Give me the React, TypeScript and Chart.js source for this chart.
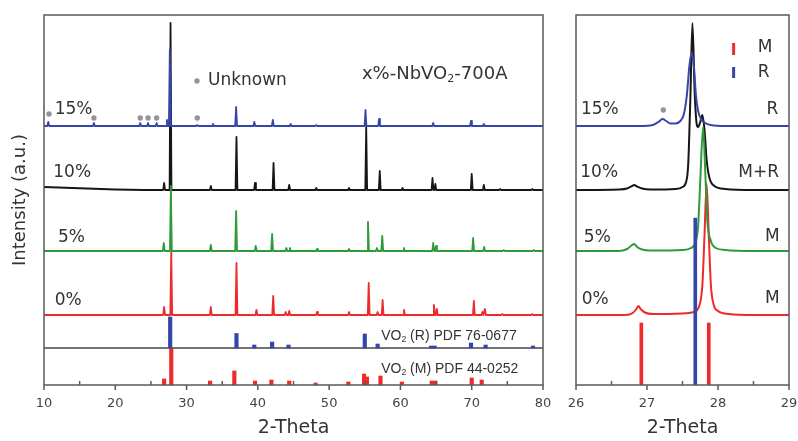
import React, { useEffect, useRef } from "react";
import { Chart, registerables } from "chart.js";

Chart.register(...registerables);

const FONT = "'DejaVu Sans', 'Liberation Sans', sans-serif";
const FONT2 = "'Liberation Sans', Arial, sans-serif";
const TEXT = "#333333";
const BLUE = "#3446a8";
const BLACK = "#161616";
const GREEN = "#2e9b3a";
const RED = "#ee2a2a";

// ---------- stacking offsets (a.u.) ----------
const OFF_15 = 259;
const OFF_10 = 195;
const OFF_5 = 134;
const OFF_0 = 70;
const OFF_R = 37;
const OFF_M = 0;

// ---------- left panel (10-80 deg) ----------
const LEFT_TICKS = [10, 20, 30, 40, 50, 60, 70, 80];
const LEFT_MINOR = [15, 25, 35, 45, 55, 65, 75];

// [2theta, height]
const PEAKS_15 = [
  [10.6, 4], [17.0, 3], [23.5, 3], [24.6, 3], [25.8, 3], [27.25, 6], [27.65, 76], [31.5, 1],
  [33.7, 2], [36.95, 19], [39.5, 4], [42.1, 6], [44.6, 2], [48.2, 1], [55.1, 16], [57.0, 7],
  [64.6, 3], [69.9, 5], [71.7, 2],
];
const BG_15 = [[10, 0], [80, 0]];

const PEAKS_10 = [
  [26.85, 7], [27.75, 167], [33.4, 4], [37.0, 53], [39.6, 7], [42.2, 27], [44.4, 5], [48.2, 2],
  [52.8, 2], [55.2, 63], [57.1, 19], [60.3, 2], [64.5, 12], [64.9, 6], [70.0, 16], [71.7, 5],
  [74.0, 1], [78.5, 1],
];
const BG_10 = [[10, 3], [14, 2], [20, 0.5], [24, 0], [80, 0]];

const PEAKS_5 = [
  [26.8, 8], [27.8, 65], [33.4, 6], [36.95, 40], [39.7, 5], [42.0, 17], [44.0, 3], [44.5, 3],
  [48.3, 2], [52.8, 2], [55.45, 29], [56.7, 3], [57.45, 15], [60.5, 3], [64.6, 8], [65.0, 5],
  [70.2, 13], [71.75, 4], [74.5, 1], [78.7, 1],
];
const BG_5 = [[10, 0], [80, 0]];

const PEAKS_0 = [
  [26.85, 8], [27.85, 63], [33.4, 8], [37.0, 52], [39.8, 5], [42.15, 19], [43.9, 3], [44.4, 4],
  [48.3, 3], [52.8, 3], [55.55, 32], [56.8, 3], [57.5, 15], [60.5, 5], [64.7, 10], [65.1, 6],
  [70.3, 14], [71.5, 3], [71.85, 6], [74.3, 1], [78.5, 1],
];
const BG_0 = [[10, 0], [80, 0]];

// reference sticks [2theta, intensity]
const STICKS_R = [
  [27.7, 31], [37.0, 14.5], [39.5, 3], [42.0, 6], [44.3, 3], [55.0, 14], [56.8, 4], [64.3, 2],
  [64.8, 2], [69.9, 5], [71.95, 3], [78.6, 2],
];
const STICKS_M = [
  [26.85, 6], [27.85, 37], [33.3, 4], [36.7, 14], [39.6, 4], [41.9, 5], [44.4, 4], [48.1, 2],
  [52.7, 3], [54.9, 11], [55.3, 8], [57.2, 9], [60.2, 3], [64.4, 4], [64.9, 4], [70.0, 7], [71.4, 5],
];

// unknown-phase markers [2theta, height above 15% baseline]
const UNKNOWN_MARKS = [[10.7, 12], [17.0, 8], [23.5, 8], [24.6, 8], [25.8, 8], [31.5, 8]];

// ---------- right panel (26-29 deg) ----------
const RIGHT_TICKS = [26, 27, 28, 29];
const RIGHT_MINOR = [26.5, 27.5, 28.5];

const CURVE_15 = [
  [26.0, 0], [26.9, 0], [27.08, 1], [27.16, 4], [27.22, 7], [27.27, 5], [27.33, 2.5], [27.4, 2.5],
  [27.47, 5], [27.52, 12], [27.56, 30], [27.6, 62], [27.63, 73], [27.66, 60], [27.69, 30],
  [27.72, 15], [27.76, 7], [27.82, 3], [27.9, 1], [28.1, 0], [29.0, 0],
];
const CURVE_10 = [
  [26.0, 0], [26.6, 0.5], [26.72, 1.5], [26.79, 4], [26.82, 5], [26.86, 3.5], [26.93, 1.5],
  [27.05, 0.5], [27.4, 1], [27.5, 3], [27.55, 8], [27.58, 25], [27.61, 90], [27.64, 167],
  [27.67, 100], [27.7, 66], [27.72, 63], [27.75, 68], [27.78, 75], [27.81, 60], [27.84, 30],
  [27.88, 12], [27.95, 4], [28.1, 1], [28.5, 0], [29.0, 0],
];
const CURVE_5 = [
  [26.0, 0], [26.6, 0], [26.72, 2], [26.79, 6], [26.82, 7], [26.86, 4], [26.93, 1.5], [27.05, 0.5],
  [27.5, 1], [27.62, 3], [27.68, 8], [27.72, 25], [27.75, 70], [27.79, 124], [27.82, 80],
  [27.85, 30], [27.9, 10], [27.97, 3], [28.1, 1], [28.5, 0], [29.0, 0],
];
const CURVE_0 = [
  [26.0, 0], [26.7, 0], [26.8, 2], [26.85, 6], [26.88, 9], [26.91, 6], [26.97, 2.5], [27.1, 1],
  [27.5, 1.5], [27.66, 3], [27.73, 8], [27.78, 30], [27.81, 80], [27.84, 131], [27.87, 80],
  [27.9, 30], [27.94, 10], [28.0, 4], [28.15, 1], [28.5, 0], [29.0, 0],
];
const ZOOM_STICKS_M = [[26.92, 62], [27.87, 62]];
const ZOOM_STICKS_R = [[27.68, 167]];
const ZOOM_UNKNOWN = [[27.23, 16]];

// ---------- helpers ----------
function spikes(peaks: number[][], bg: number[][], off: number, w = 0.13) {
  const pts: { x: number; y: number }[] = [];
  for (const [x, h] of bg) pts.push({ x, y: off + h });
  for (const [p, h] of peaks) {
    pts.push({ x: p - w, y: off }, { x: p, y: off + h }, { x: p + w, y: off });
  }
  pts.sort((a, b) => a.x - b.x);
  return pts;
}
const curve = (arr: number[][], off: number) => arr.map(([x, h]) => ({ x, y: off + h }));

function lineDs(data: any[], color: string, order: number, width = 1.8, smooth = false) {
  return {
    type: "line",
    data,
    borderColor: color,
    borderWidth: width,
    borderJoinStyle: "round",
    borderCapStyle: "round",
    pointRadius: 0,
    fill: false,
    order,
    tension: 0,
    cubicInterpolationMode: smooth ? "monotone" : "default",
  };
}
function stickDs(sticks: number[][], off: number, color: string, order: number, thick = 3) {
  return {
    type: "bar",
    data: sticks.map(([x, h]) => ({ x, y: [off, off + h] })),
    backgroundColor: color,
    borderWidth: 0,
    barThickness: thick,
    grouped: false,
    order,
  };
}
function dotDs(marks: number[][], off: number) {
  return {
    type: "line",
    data: marks.map(([x, h]) => ({ x, y: off + h })),
    showLine: false,
    pointRadius: 2.7,
    pointBackgroundColor: "#959595",
    pointBorderWidth: 0,
    order: 0,
  };
}

type Seg = { s: string; sub?: boolean };
type Label = { segs: Seg[]; x: number; y: number; align: "left" | "right"; size: number; font?: string };

function drawRich(ctx: CanvasRenderingContext2D, lab: Label, px: number, py: number) {
  const fam = lab.font || FONT;
  const widths = lab.segs.map((g) => {
    ctx.font = `${g.sub ? lab.size * 0.62 : lab.size}px ${fam}`;
    return ctx.measureText(g.s).width;
  });
  const total = widths.reduce((a, b) => a + b, 0);
  let x = lab.align === "right" ? px - total : px;
  lab.segs.forEach((g, i) => {
    ctx.font = `${g.sub ? lab.size * 0.62 : lab.size}px ${fam}`;
    ctx.textAlign = "left";
    ctx.textBaseline = "middle";
    ctx.fillStyle = TEXT;
    ctx.fillText(g.s, x, py + (g.sub ? lab.size * 0.28 : 0));
    x += widths[i];
  });
}

function decorPlugin(major: number[], minor: number[], labels: Label[], legend: boolean) {
  return {
    id: "decor",
    afterDraw(chart: any) {
      const { ctx, chartArea: a, scales } = chart;
      const sx = scales.x;
      const sy = scales.y;
      ctx.save();
      ctx.strokeStyle = "#5a5a5a";
      ctx.lineWidth = 1.5;
      ctx.strokeRect(a.left, a.top, a.right - a.left, a.bottom - a.top);
      ctx.beginPath();
      for (const v of major) {
        const p = sx.getPixelForValue(v);
        ctx.moveTo(p, a.bottom);
        ctx.lineTo(p, a.bottom + 5);
      }
      for (const v of minor) {
        const p = sx.getPixelForValue(v);
        ctx.moveTo(p, a.bottom);
        ctx.lineTo(p, a.bottom - 4);
      }
      ctx.stroke();
      for (const lab of labels) {
        drawRich(ctx, lab, sx.getPixelForValue(lab.x), sy.getPixelForValue(lab.y));
      }
      if (legend) {
        const lx = sx.getPixelForValue(28.22);
        ctx.fillStyle = RED;
        ctx.fillRect(lx - 1.5, sy.getPixelForValue(342), 3, sy.getPixelForValue(330) - sy.getPixelForValue(342));
        ctx.fillStyle = BLUE;
        ctx.fillRect(lx - 1.5, sy.getPixelForValue(318), 3, sy.getPixelForValue(307) - sy.getPixelForValue(318));
      }
      ctx.restore();
    },
  };
}

function xScale(min: number, max: number, ticks: number[]) {
  return {
    type: "linear",
    min,
    max,
    offset: false,
    grid: { display: false, drawTicks: false, offset: false },
    border: { display: false },
    afterBuildTicks: (s: any) => {
      s.ticks = ticks.map((v) => ({ value: v }));
    },
    afterFit: (s: any) => {
      s.height = 56;
      s.paddingLeft = 0;
      s.paddingRight = 0;
    },
    ticks: { color: "#444", font: { family: FONT, size: 13 }, padding: 11, maxRotation: 0, autoSkip: false },
    title: { display: true, text: "2-Theta", color: TEXT, font: { family: FONT, size: 19 }, padding: { top: 0, bottom: 2 } },
  };
}

const LEFT_LABELS: Label[] = [
  { segs: [{ s: "15%" }], x: 11.5, y: 275, align: "left", size: 17 },
  { segs: [{ s: "10%" }], x: 11.3, y: 212, align: "left", size: 17 },
  { segs: [{ s: "5%" }], x: 11.95, y: 147, align: "left", size: 17 },
  { segs: [{ s: "0%" }], x: 11.5, y: 84, align: "left", size: 17 },
  { segs: [{ s: "Unknown" }], x: 33.0, y: 304, align: "left", size: 17 },
  { segs: [{ s: "x%-NbVO" }, { s: "2", sub: true }, { s: "-700A" }], x: 54.6, y: 311, align: "left", size: 18 },
  { segs: [{ s: "VO" }, { s: "2", sub: true }, { s: " (R) PDF 76-0677" }], x: 57.3, y: 49, align: "left", size: 14, font: FONT2 },
  { segs: [{ s: "VO" }, { s: "2", sub: true }, { s: " (M) PDF 44-0252" }], x: 57.3, y: 16, align: "left", size: 14, font: FONT2 },
];

const RIGHT_LABELS: Label[] = [
  { segs: [{ s: "15%" }], x: 26.07, y: 275, align: "left", size: 17 },
  { segs: [{ s: "10%" }], x: 26.06, y: 212, align: "left", size: 17 },
  { segs: [{ s: "5%" }], x: 26.11, y: 147, align: "left", size: 17 },
  { segs: [{ s: "0%" }], x: 26.08, y: 85, align: "left", size: 17 },
  { segs: [{ s: "R" }], x: 28.85, y: 275, align: "right", size: 17 },
  { segs: [{ s: "M+R" }], x: 28.86, y: 212, align: "right", size: 17 },
  { segs: [{ s: "M" }], x: 28.87, y: 148, align: "right", size: 17 },
  { segs: [{ s: "M" }], x: 28.87, y: 86, align: "right", size: 17 },
  { segs: [{ s: "M" }], x: 28.56, y: 337, align: "left", size: 17 },
  { segs: [{ s: "R" }], x: 28.56, y: 312, align: "left", size: 17 },
];

function leftConfig(): any {
  return {
    type: "line",
    data: {
      datasets: [
        dotDs(UNKNOWN_MARKS, OFF_15),
        dotDs([[31.46, 45]], OFF_15),
        lineDs(spikes(PEAKS_15, BG_15, OFF_15), BLUE, 1),
        lineDs(spikes(PEAKS_5, BG_5, OFF_5), GREEN, 2),
        lineDs(spikes(PEAKS_10, BG_10, OFF_10), BLACK, 3),
        lineDs(spikes(PEAKS_0, BG_0, OFF_0), RED, 4),
        stickDs(STICKS_R, OFF_R, BLUE, 5, 3.5),
        stickDs(STICKS_M, OFF_M, RED, 6, 3.5),
        lineDs([{ x: 10, y: OFF_R }, { x: 80, y: OFF_R }], "#444", 7, 1.5),
      ],
    },
    options: {
      animation: false,
      responsive: false,
      maintainAspectRatio: false,
      layout: { padding: { left: 0, right: 17, top: 15, bottom: 0 } },
      plugins: { legend: { display: false }, tooltip: { enabled: false } },
      scales: {
        x: xScale(10, 80, LEFT_TICKS),
        y: {
          type: "linear",
          min: 0,
          max: 370,
          grid: { display: false, drawTicks: false },
          border: { display: false },
          ticks: { display: false },
          afterFit: (s: any) => {
            s.width = 44;
          },
          title: { display: true, text: "Intensity (a.u.)", color: TEXT, font: { family: FONT, size: 18 }, padding: { top: 10, bottom: 0 } },
        },
      },
    },
    plugins: [decorPlugin(LEFT_TICKS, LEFT_MINOR, LEFT_LABELS, false)],
  };
}

function rightConfig(): any {
  return {
    type: "line",
    data: {
      datasets: [
        stickDs(ZOOM_STICKS_R, OFF_M, BLUE, 0, 3),
        dotDs(ZOOM_UNKNOWN, OFF_15),
        lineDs(curve(CURVE_15, OFF_15), BLUE, 1, 2, true),
        lineDs(curve(CURVE_5, OFF_5), GREEN, 2, 2, true),
        lineDs(curve(CURVE_0, OFF_0), RED, 3, 2, true),
        lineDs(curve(CURVE_10, OFF_10), BLACK, 4, 2, true),
        stickDs(ZOOM_STICKS_M, OFF_M, RED, 5, 3),
      ],
    },
    options: {
      animation: false,
      responsive: false,
      maintainAspectRatio: false,
      layout: { padding: { left: 16, right: 9, top: 15, bottom: 0 } },
      plugins: { legend: { display: false }, tooltip: { enabled: false } },
      scales: {
        x: xScale(26, 29, RIGHT_TICKS),
        y: { type: "linear", min: 0, max: 370, display: false },
      },
    },
    plugins: [decorPlugin(RIGHT_TICKS, RIGHT_MINOR, RIGHT_LABELS, true)],
  };
}

export default function App() {
  const leftRef = useRef<HTMLCanvasElement>(null);
  const rightRef = useRef<HTMLCanvasElement>(null);
  useEffect(() => {
    const c1 = new Chart(leftRef.current as HTMLCanvasElement, leftConfig());
    const c2 = new Chart(rightRef.current as HTMLCanvasElement, rightConfig());
    return () => {
      c1.destroy();
      c2.destroy();
    };
  }, []);
  return (
    <div style={{ position: "absolute", left: 0, top: 0, width: 798, height: 441, background: "#fff" }}>
      <canvas ref={leftRef} width={560} height={441} style={{ position: "absolute", left: 0, top: 0, width: 560, height: 441 }} />
      <canvas ref={rightRef} width={238} height={441} style={{ position: "absolute", left: 560, top: 0, width: 238, height: 441 }} />
    </div>
  );
}
